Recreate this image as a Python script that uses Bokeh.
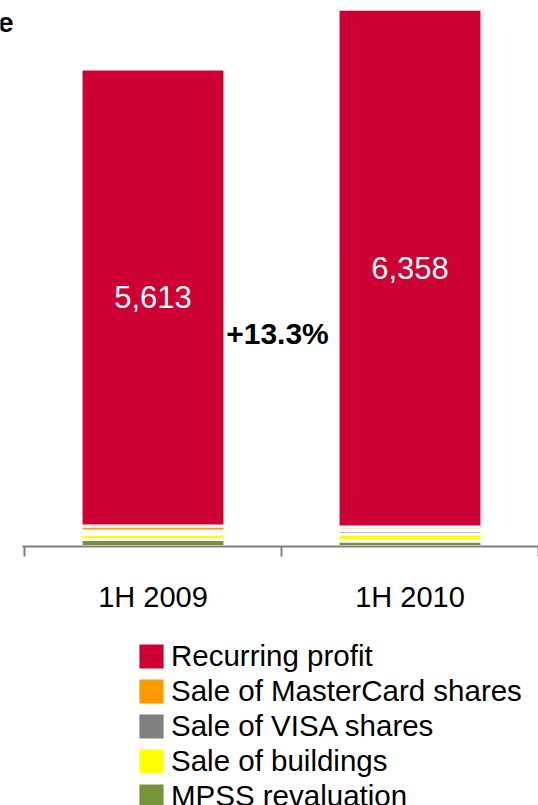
from bokeh.plotting import figure
from bokeh.models import Range1d, Legend, LegendItem, Label, ColumnDataSource
from bokeh.embed import file_html
from bokeh.resources import INLINE
from bokeh.core.properties import value

# ---- data ----
categories = ["1H 2009", "1H 2010"]
recurring = [5613, 6358]
mastercard = [61, 43]
visa = [37, 43]
buildings = [68, 86]
mpss = [86, 68]

series_keys = ["mpss", "buildings", "visa", "mastercard", "recurring"]
series_names = ["MPSS revaluation", "Sale of buildings", "Sale of VISA shares",
                "Sale of MasterCard shares", "Recurring profit"]
series_colors = ["#77933C", "#FFFF00", "#808080", "#FF9900", "#CC0033"]

FONT = "Liberation Sans"

# ---- layout constants (pixels) ----
W, H = 538, 805
PX_PER_UNIT = 0.08142          # vertical scale
AXIS_Y = 546                   # pixel row of the category axis baseline
LEFT = 24                      # pixel column where the category axis starts
PX_PER_CAT = 257               # pixel width of one category slot

n = len(categories)
x = [i + 0.5 for i in range(n)]
base = [mpss[i] + buildings[i] + visa[i] + mastercard[i] for i in range(n)]
ymid = [base[i] + recurring[i] / 2 for i in range(n)]
labels = [f"{v:,}" for v in recurring]
growth = (recurring[1] / recurring[0] - 1) * 100

src = ColumnDataSource(dict(x=x, mpss=mpss, buildings=buildings, visa=visa,
                            mastercard=mastercard, recurring=recurring,
                            ymid=ymid, label=labels, cat=categories,
                            zero=[0] * n))

p = figure(width=W, height=H,
           x_range=Range1d(-LEFT / PX_PER_CAT, (W - LEFT) / PX_PER_CAT),
           y_range=Range1d(-(H - AXIS_Y) / PX_PER_UNIT, AXIS_Y / PX_PER_UNIT),
           output_backend="svg", toolbar_location=None,
           min_border_left=0, min_border_right=0, min_border_top=0,
           min_border_bottom=0, x_axis_location=None, y_axis_location=None)
p.outline_line_color = None
for g in p.grid:
    g.visible = False

rs = p.vbar_stack(series_keys, x="x", width=0.56, fill_color=series_colors,
                  line_color="white", line_width=3, source=src)

# value labels inside the red bars
p.text(x="x", y="ymid", text="label", source=src, text_color="white",
       text_font=value(FONT), text_font_size="31px", text_align="center",
       text_baseline="middle")

# category axis (baseline, boundary ticks, labels)
bounds = list(range(n + 1))
tick_len = 10 / PX_PER_UNIT
p.segment(x0=-0.008, y0=0, x1=n, y1=0, line_color="#7f7f7f", line_width=2)
p.segment(x0=bounds, y0=[0] * len(bounds), x1=bounds, y1=[-tick_len] * len(bounds),
          line_color="#7f7f7f", line_width=2)
p.text(x="x", y="zero", text="cat", source=src, y_offset=50, text_color="black",
       text_font=value(FONT), text_font_size="29px", text_align="center",
       text_baseline="middle")

p.add_layout(Label(x=1, y=2620, x_offset=-4, text=f"+{growth:.1f}%",
                   text_font=FONT, text_font_style="bold", text_font_size="30px",
                   text_align="center", text_baseline="middle", text_color="black"))

# clipped fragment of neighbouring slide text at the top-left edge
p.add_layout(Label(x=-LEFT / PX_PER_CAT, y=(AXIS_Y - 22) / PX_PER_UNIT, x_offset=13,
                   text="e", text_font=FONT, text_font_style="bold",
                   text_font_size="28px", text_align="right",
                   text_baseline="middle", text_color="black"))

items = [LegendItem(label=series_names[i], renderers=[rs[i]])
         for i in reversed(range(len(series_keys)))]
legend = Legend(items=items, location=(134, -8), glyph_width=34, glyph_height=34,
                label_standoff=3, spacing=1, padding=0, margin=0,
                border_line_alpha=0, background_fill_alpha=0,
                label_text_font=FONT, label_text_font_size="29.5px",
                label_text_color="black")
p.add_layout(legend)

open("out.html", "w").write(file_html(p, INLINE))
